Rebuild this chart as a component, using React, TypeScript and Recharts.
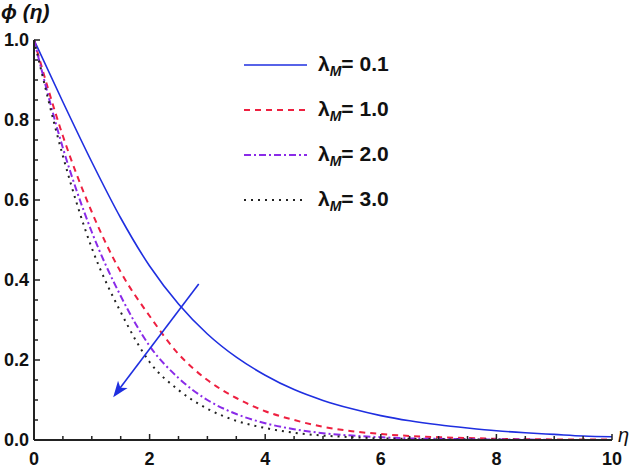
import React from 'react';
import { LineChart, Line, XAxis, YAxis, ReferenceLine } from 'recharts';

const etaValues = [0, 0.5, 1, 1.5, 2, 2.5, 3, 3.5, 4, 4.5, 5, 5.5, 6, 6.5, 7, 7.5, 8, 8.5, 9, 9.5, 10];
const phiLambda01 = [1.0, 0.845, 0.695, 0.555, 0.435, 0.34, 0.265, 0.207, 0.162, 0.126, 0.099, 0.078, 0.061, 0.048, 0.038, 0.03, 0.023, 0.018, 0.014, 0.01, 0.008];
const phiLambda10 = [1.0, 0.76, 0.57, 0.42, 0.31, 0.215, 0.15, 0.105, 0.072, 0.05, 0.033, 0.022, 0.015, 0.01, 0.007, 0.005, 0.003, 0.002, 0.0015, 0.001, 0.001];
const phiLambda20 = [1.0, 0.73, 0.52, 0.36, 0.235, 0.155, 0.1, 0.065, 0.042, 0.027, 0.017, 0.011, 0.007, 0.004, 0.003, 0.002, 0.001, 0.001, 0.0, 0.0, 0.0];
const phiLambda30 = [1.0, 0.71, 0.48, 0.32, 0.195, 0.125, 0.078, 0.048, 0.03, 0.018, 0.011, 0.007, 0.004, 0.003, 0.002, 0.001, 0.001, 0.0, 0.0, 0.0, 0.0];

const xTicks = [0, 0.5, 1, 1.5, 2, 2.5, 3, 3.5, 4, 4.5, 5, 5.5, 6, 6.5, 7, 7.5, 8, 8.5, 9, 9.5, 10];
const xLabels = [0, 2, 4, 6, 8, 10];
const yTicks = [0, 0.05, 0.1, 0.15, 0.2, 0.25, 0.3, 0.35, 0.4, 0.45, 0.5, 0.55, 0.6, 0.65, 0.7, 0.75, 0.8, 0.85, 0.9, 0.95, 1];
const yLabels = [0, 0.2, 0.4, 0.6, 0.8, 1];

const legendValues = ['0.1', '1.0', '2.0', '3.0'];

const arrowFrom = { x: 2.85, y: 0.39 };
const arrowTo = { x: 1.37, y: 0.107 };

const data = etaValues.map((eta, i) => ({
  eta,
  a: phiLambda01[i],
  b: phiLambda10[i],
  c: phiLambda20[i],
  d: phiLambda30[i],
}));

const series = [
  { key: 'a', color: '#1f2fe0', dash: undefined, width: 1.6 },
  { key: 'b', color: '#ee2040', dash: '6 5', width: 2 },
  { key: 'c', color: '#8a2be8', dash: '7 3 2 3', width: 2 },
  { key: 'd', color: '#222222', dash: '2 5', width: 2 },
];

const AXIS = '#222';
const FONT = '"Liberation Sans", Arial, sans-serif';

const isLabel = (list: number[], v: number) => list.some((l) => Math.abs(l - v) < 1e-6);

function XTick(props: any) {
  const { x, y, payload } = props;
  const v = payload.value;
  const major = isLabel(xLabels, v);
  const axisY = y - 2;
  return (
    <g>
      <line x1={x} x2={x} y1={axisY} y2={axisY - (major ? 6 : 4)} stroke={AXIS} strokeWidth={1.5} />
      {major && (
        <text x={x} y={axisY + 25} textAnchor="middle" fontFamily={FONT} fontWeight="bold" fontSize={18} fill="#111">
          {v}
        </text>
      )}
    </g>
  );
}

function YTick(props: any) {
  const { x, y, payload } = props;
  const v = payload.value;
  const major = isLabel(yLabels, v);
  const axisX = x + 2;
  return (
    <g>
      <line x1={axisX} x2={axisX + (major ? 6 : 4)} y1={y} y2={y} stroke={AXIS} strokeWidth={1.5} />
      {major && (
        <text x={axisX - 5} y={y + 6} textAnchor="end" fontFamily={FONT} fontWeight="bold" fontSize={18} fill="#111">
          {v.toFixed(1)}
        </text>
      )}
    </g>
  );
}

function ArrowShape(props: any) {
  const { x1, y1, x2, y2 } = props;
  const dx = x2 - x1;
  const dy = y2 - y1;
  const len = Math.sqrt(dx * dx + dy * dy);
  const ux = dx / len;
  const uy = dy / len;
  const head = 16;
  const half = 6;
  const bx = x2 - ux * head;
  const by = y2 - uy * head;
  const nx = bx + ux * 4;
  const ny = by + uy * 4;
  return (
    <g>
      <line x1={x1} y1={y1} x2={x2 - ux * 8} y2={y2 - uy * 8} stroke="#1f2fe0" strokeWidth={1.6} />
      <polygon
        points={`${x2},${y2} ${bx - uy * half},${by + ux * half} ${nx},${ny} ${bx + uy * half},${by - ux * half}`}
        fill="#1f2fe0"
      />
    </g>
  );
}

function LegendBox() {
  return (
    <div style={{ position: 'absolute', left: 243, top: 43, fontFamily: FONT }}>
      {series.map((s, i) => (
        <div key={s.key} style={{ display: 'flex', alignItems: 'center', height: 44.9 }}>
          <svg width={66} height={10} style={{ marginRight: 9 }}>
            <line x1={1} y1={5} x2={64} y2={5} stroke={s.color} strokeWidth={s.width} strokeDasharray={s.dash} />
          </svg>
          <span style={{ fontWeight: 'bold', fontSize: 21, color: '#111', whiteSpace: 'nowrap' }}>
            λ<sub style={{ fontStyle: 'italic', fontSize: 14 }}>M</sub>= {legendValues[i]}
          </span>
        </div>
      ))}
    </div>
  );
}

export default function App() {
  return (
    <div style={{ position: 'absolute', left: 0, top: 0, width: 640, height: 474, background: '#fff' }}>
      <LineChart width={640} height={474} data={data} margin={{ top: 40, right: 28, bottom: 0, left: 0 }}>
        <XAxis
          dataKey="eta"
          type="number"
          domain={[0, 10]}
          ticks={xTicks}
          interval={0}
          height={34}
          tickSize={0}
          tickMargin={2}
          stroke={AXIS}
          strokeWidth={2}
          tick={<XTick />}
        />
        <YAxis
          type="number"
          domain={[0, 1]}
          ticks={yTicks}
          interval={0}
          width={34}
          tickSize={0}
          tickMargin={2}
          stroke={AXIS}
          strokeWidth={2}
          tick={<YTick />}
        />
        {series.map((s) => (
          <Line
            key={s.key}
            type="monotone"
            dataKey={s.key}
            stroke={s.color}
            strokeWidth={s.width}
            strokeDasharray={s.dash}
            dot={false}
            isAnimationActive={false}
          />
        ))}
        <ReferenceLine
          segment={[arrowFrom, arrowTo]}
          shape={(p: any) => <ArrowShape {...p} />}
        />
      </LineChart>
      <div style={{ position: 'absolute', left: 1, top: 0, fontFamily: FONT, fontStyle: 'italic', fontWeight: 'bold', fontSize: 21, color: '#111' }}>
        ϕ (η)
      </div>
      <div style={{ position: 'absolute', left: 618, top: 424, fontFamily: FONT, fontStyle: 'italic', fontSize: 20, color: '#111' }}>
        η
      </div>
      <LegendBox />
    </div>
  );
}
